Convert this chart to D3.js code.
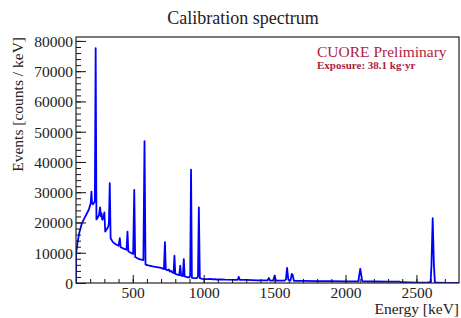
<!DOCTYPE html>
<html>
<head>
<meta charset="utf-8">
<script src="https://cdn.jsdelivr.net/npm/d3@7"></script>
<style>
  body { margin: 0; background: #fff; }
  svg text { font-family: "Liberation Serif", "Times New Roman", serif !important; fill: #222; }
</style>
</head>
<body>
<svg id="chart" width="461" height="318"></svg>
<script>
// energy [keV] / counts per keV
const energy = [100, 101, 112, 123, 142, 166, 190, 204, 209, 213, 220, 227, 233, 238.6, 244, 252, 262, 270, 275, 280, 285,
  294, 300, 306, 320, 328, 332, 338, 344, 360, 380, 400, 409, 415, 440, 456, 463, 469, 490, 503, 510.7, 517,
  540, 560, 575, 583, 590, 610, 640, 680, 700, 720, 727, 733, 750, 755, 762, 772, 779, 788, 794, 800, 815,
  828, 835, 841, 853, 860, 866, 885, 900, 905, 911, 917, 940, 955, 960, 966, 973, 990, 1000, 1030, 1050, 1065,
  1080, 1095, 1120, 1150, 1240, 1247, 1255, 1300, 1380, 1400, 1450, 1460, 1468, 1490, 1500, 1510, 1570, 1580,
  1588, 1597, 1612, 1621, 1628, 1636, 1700, 1800, 1900, 2000, 2090, 2104, 2118, 2200, 2300, 2380, 2390, 2450,
  2500, 2580, 2600, 2606, 2614.5, 2623, 2630, 2650, 2700, 2800];
const counts = [0, 9900, 13700, 16500, 19800, 22000, 24200, 26400, 30200, 26400, 26000, 26500, 27000, 77600, 21000, 21500, 22500, 25000, 22000, 23000, 20900,
  21500, 23300, 17000, 18000, 18700, 20000, 33000, 14800, 13500, 12800, 12300, 14800, 11800, 11300, 11000, 17000, 10400, 9900, 9600, 30800, 8600,
  8000, 7700, 7600, 46900, 6100, 5800, 5500, 5200, 5000, 4600, 13500, 4400, 4200, 4500, 3800, 4000, 3500, 3300, 9000, 3000, 2800,
  2600, 5700, 2400, 2300, 7900, 2200, 1900, 1900, 2500, 37500, 1700, 1600, 1700, 2200, 25000, 1600, 1400, 1300, 1250, 1350, 1200,
  1300, 1150, 1150, 1100, 1050, 2000, 1050, 1000, 900, 860, 850, 1650, 820, 800, 2400, 780, 760, 1200,
  5000, 1000, 800, 3000, 2600, 700, 680, 650, 600, 560, 540, 4700, 520, 500, 480, 450, 250, 200,
  150, 120, 400, 6000, 21400, 6000, 300, 80, 40, 20];

const xTicks = [500, 1000, 1500, 2000, 2500];
const yTicks = [0, 10000, 20000, 30000, 40000, 50000, 60000, 70000, 80000];

const title = "Calibration spectrum";
const xTitle = "Energy [keV]";
const yTitle = "Events [counts / keV]";

const svg = d3.select("#chart");
const serif = "'Liberation Serif', 'Times New Roman', serif";
const fLeft = 76, fRight = 459, fTop = 37, fBottom = 283;

const x = d3.scaleLinear().domain([100, 2800]).range([fLeft, fRight]);
const y = d3.scaleLinear().domain([0, 81300]).range([fBottom, fTop]);

const data = energy.map((e, i) => ({ e: e, c: counts[i] }));

svg.append("clipPath").attr("id", "clip")
  .append("rect").attr("x", fLeft).attr("y", fTop).attr("width", fRight - fLeft).attr("height", fBottom - fTop);

// spectrum
svg.append("path")
  .datum(data)
  .attr("clip-path", "url(#clip)")
  .attr("fill", "none")
  .attr("stroke", "#0000ff")
  .attr("stroke-width", 1.8)
  .attr("stroke-linejoin", "round")
  .attr("d", d3.line().x(d => x(d.e)).y(d => y(d.c)));

// x axis: major + minor ticks pointing up into the frame
const xAxis = svg.append("g").attr("transform", "translate(0," + fBottom + ")");
xAxis.call(d3.axisBottom(x).tickValues(d3.range(200, 2800, 100)).tickSize(-4).tickFormat(""));
xAxis.append("g").call(d3.axisBottom(x).tickValues(xTicks).tickSize(-8).tickPadding(0).tickFormat(d3.format("d")));
xAxis.selectAll(".domain").remove();
xAxis.selectAll("line").attr("stroke", "#111");
xAxis.selectAll("text").attr("font-size", 15.5).attr("dy", null).attr("y", 15);

// y axis
const yAxis = svg.append("g").attr("transform", "translate(" + fLeft + ",0)");
yAxis.call(d3.axisLeft(y).tickValues(d3.range(2000, 81000, 2000)).tickSize(-5).tickFormat(""));
yAxis.append("g").call(d3.axisLeft(y).tickValues(yTicks).tickSize(-10).tickPadding(0).tickFormat(d3.format("d")));
yAxis.selectAll(".domain").remove();
yAxis.selectAll("line").attr("stroke", "#111");
yAxis.selectAll("text").attr("font-size", 15.5).attr("x", -3).attr("dy", "0.35em");
svg.selectAll("g").attr("font-family", serif);

// frame
svg.append("rect")
  .attr("x", fLeft).attr("y", fTop).attr("width", fRight - fLeft).attr("height", fBottom - fTop)
  .attr("fill", "none").attr("stroke", "#222").attr("stroke-width", 1.2);

// titles
svg.append("text").attr("x", 243).attr("y", 24).attr("text-anchor", "middle")
  .attr("font-family", serif).attr("font-size", 18).text(title);
svg.append("text").attr("x", 459).attr("y", 314).attr("text-anchor", "end")
  .attr("font-family", serif).attr("font-size", 15.5).text(xTitle);
svg.append("text").attr("transform", "translate(23," + fTop + ") rotate(-90)")
  .attr("font-family", serif).attr("text-anchor", "end").attr("font-size", 15.5).text(yTitle);

// label
svg.append("text").attr("x", 317).attr("y", 57).attr("font-size", 15.5).attr("font-family", serif)
  .style("fill", "#b01c3e").text("CUORE Preliminary");
svg.append("text").attr("x", 317).attr("y", 69).attr("font-size", 11).attr("font-weight", "bold").attr("font-family", serif)
  .style("fill", "#b01c3e").text("Exposure: 38.1 kg·yr");
</script>
</body>
</html>
